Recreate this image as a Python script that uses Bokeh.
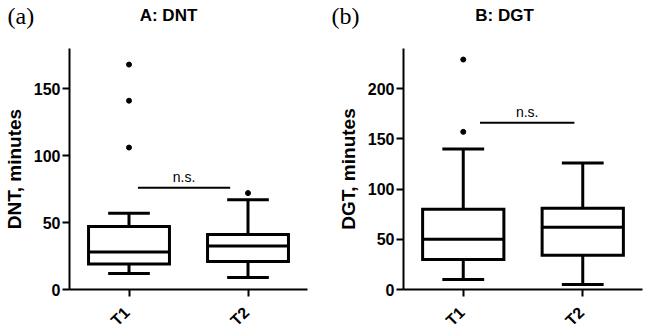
import math
from bokeh.plotting import figure
from bokeh.layouts import row, column
from bokeh.models import Range1d, FixedTicker, Label
from bokeh.core.properties import value
from bokeh.embed import file_html
from bokeh.resources import INLINE

# ---- data ----
groups = ["T1", "T2"]

# Panel A: DNT
dnt_low = [12, 9]
dnt_q1 = [19, 21]
dnt_med = [28, 32.5]
dnt_q3 = [47, 41]
dnt_high = [57, 67]
dnt_out_group = ["T1", "T1", "T1", "T2"]
dnt_out_val = [168, 141, 106, 72]
dnt_yticks = [0, 50, 100, 150]
dnt_ns_y = 76

# Panel B: DGT
dgt_low = [10, 5]
dgt_q1 = [30, 34]
dgt_med = [50, 62]
dgt_q3 = [80, 81]
dgt_high = [140, 126]
dgt_out_group = ["T1", "T1"]
dgt_out_val = [229, 157]
dgt_yticks = [0, 50, 100, 150, 200]
dgt_ns_y = 166

panel_titles = ["A: DNT", "B: DGT"]
panel_tags = ["(a)", "(b)"]

FONT = "Liberation Sans"
HEADER_H = 30
FOOTER_H = 33
W = 324
H = 331


def make_panel(ylabel, low, q1, med, q3, high, og, ov, yticks, ymax,
               ns_y, ns_x0, ns_x1, border_left, border_right):
    xs = [i + 1 for i in range(len(groups))]
    p = figure(width=W, height=H - HEADER_H - FOOTER_H, output_backend="svg",
               toolbar_location=None,
               x_range=Range1d(0.5, 2.5), y_range=Range1d(0, ymax),
               min_border_left=border_left, min_border_right=border_right,
               min_border_top=48 - HEADER_H, min_border_bottom=9)
    p.outline_line_color = None
    p.xgrid.visible = False
    p.ygrid.visible = False

    bw = 0.68
    cw = 0.35
    lw = 3

    p.segment(x0=xs, y0=q3, x1=xs, y1=high, line_color="black", line_width=lw)
    p.segment(x0=xs, y0=q1, x1=xs, y1=low, line_color="black", line_width=lw)
    p.segment(x0=[x - cw / 2 for x in xs], y0=high, x1=[x + cw / 2 for x in xs], y1=high,
              line_color="black", line_width=lw)
    p.segment(x0=[x - cw / 2 for x in xs], y0=low, x1=[x + cw / 2 for x in xs], y1=low,
              line_color="black", line_width=lw)
    p.vbar(x=xs, width=bw, bottom=q1, top=q3, fill_color="white",
           line_color="black", line_width=lw, line_join="miter")
    p.segment(x0=[x - bw / 2 for x in xs], y0=med, x1=[x + bw / 2 for x in xs], y1=med,
              line_color="black", line_width=lw)
    ox = [groups.index(g) + 1 for g in og]
    p.scatter(x=ox, y=ov, size=5, color="black")

    p.segment(x0=[ns_x0], y0=[ns_y], x1=[ns_x1], y1=[ns_y], line_color="black", line_width=2)
    p.add_layout(Label(x=(ns_x0 + ns_x1) / 2, y=ns_y, y_offset=3, text="n.s.",
                       text_font=FONT, text_font_size="14px", text_align="center",
                       text_baseline="bottom", text_color="black"))

    p.xaxis.ticker = FixedTicker(ticks=xs)
    p.yaxis.ticker = FixedTicker(ticks=yticks)
    for ax in (p.xaxis, p.yaxis):
        ax.axis_line_width = 2
        ax.axis_line_color = "black"
        ax.major_tick_line_width = 2
        ax.major_tick_line_color = "black"
        ax.major_tick_out = 7
        ax.major_tick_in = 0
        ax.minor_tick_line_color = None
        ax.major_label_text_font = FONT
        ax.major_label_text_font_style = "bold"
        ax.major_label_text_font_size = "16px"
        ax.major_label_text_color = "black"
        ax.major_label_standoff = 2
    # x tick labels are drawn rotated in the strip below (same x scale)
    p.xaxis.major_label_text_color = None
    p.xaxis.major_label_standoff = 0
    p.yaxis.axis_label = ylabel
    p.yaxis.axis_label_text_font = FONT
    p.yaxis.axis_label_text_font_style = "bold"
    p.yaxis.axis_label_text_font_size = "19px"
    p.yaxis.axis_label_text_color = "black"
    p.yaxis.axis_label_standoff = 6

    # footer strip sharing the x scale, carrying the rotated category labels
    f = figure(width=W, height=FOOTER_H, output_backend="svg", toolbar_location=None,
               x_range=p.x_range, y_range=Range1d(FOOTER_H, 0),
               x_axis_type=None, y_axis_type=None,
               min_border_left=border_left, min_border_right=border_right,
               min_border_top=0, min_border_bottom=0)
    f.outline_line_color = None
    f.xgrid.visible = False
    f.ygrid.visible = False
    f.text(x=xs, y=[18] * len(xs), text=groups, angle=math.pi / 4, x_offset=-8,
           text_font=value(FONT), text_font_style="bold", text_font_size="16px",
           text_align="center", text_baseline="middle", text_color="black")
    return p, f


p1, f1 = make_panel("DNT, minutes", dnt_low, dnt_q1, dnt_med, dnt_q3, dnt_high,
                    dnt_out_group, dnt_out_val, dnt_yticks, 180, dnt_ns_y, 1.075, 1.85, 68, 17)
p2, f2 = make_panel("DGT, minutes", dgt_low, dgt_q1, dgt_med, dgt_q3, dgt_high,
                    dgt_out_group, dgt_out_val, dgt_yticks, 240, dgt_ns_y, 1.14, 1.93, 79, 6)

# header strip with panel tags and titles (pixel coordinates, y downward)
header = figure(width=2 * W, height=HEADER_H, output_backend="svg", toolbar_location=None,
                x_range=Range1d(0, 2 * W), y_range=Range1d(HEADER_H, 0),
                x_axis_type=None, y_axis_type=None, min_border=0)
header.outline_line_color = None
header.xgrid.visible = False
header.ygrid.visible = False
header.text(x=[168, 504], y=[15, 15], text=panel_titles, text_font=value(FONT),
            text_font_style="bold", text_font_size="17px", text_align="center",
            text_baseline="middle", text_color="black")
header.text(x=[7, 331], y=[15, 15], text=panel_tags, text_font=value("Liberation Serif"),
            text_font_size="24px", text_align="left", text_baseline="middle",
            text_color="black")

layout = column(header, row(p1, p2, spacing=0), row(f1, f2, spacing=0), spacing=0)
open("out.html", "w").write(file_html(layout, INLINE))
